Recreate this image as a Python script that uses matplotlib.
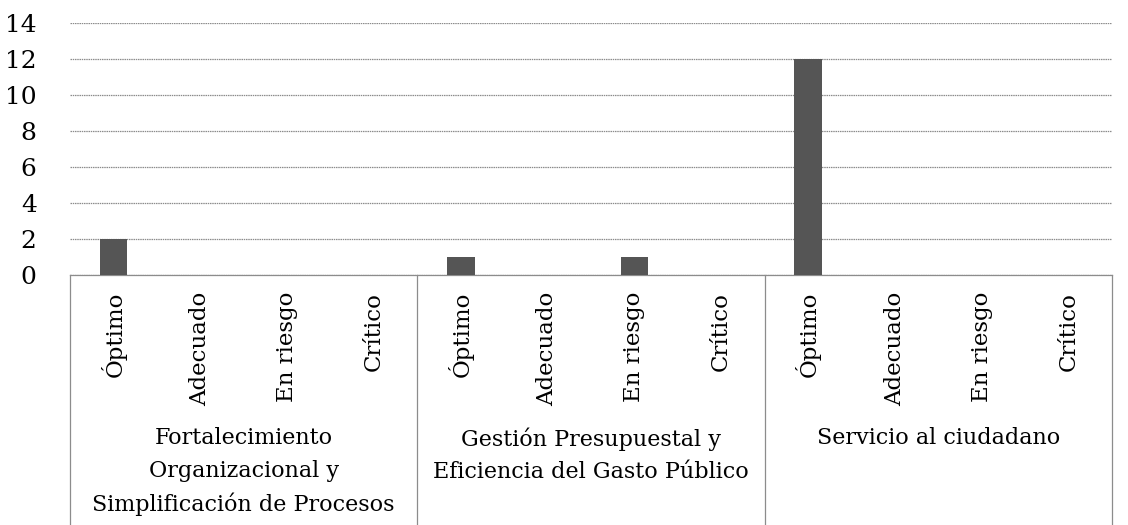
import matplotlib
matplotlib.use('Agg')
import matplotlib.pyplot as plt
import matplotlib.transforms as mtransforms
import numpy as np

# data
groups = ['Fortalecimiento\nOrganizacional y\nSimplificación de Procesos',
          'Gestión Presupuestal y\nEficiencia del Gasto Público',
          'Servicio al ciudadano']
levels = ['Óptimo', 'Adecuado', 'En riesgo', 'Crítico']
values = [[2, 0, 0, 0],
          [1, 0, 1, 0],
          [12, 0, 0, 0]]
y_ticks = [0, 2, 4, 6, 8, 10, 12, 14]

plt.rcParams['font.family'] = ['DejaVu Serif']

fig = plt.figure(figsize=(11.28, 5.25), dpi=100)
ax = fig.add_axes([70 / 1128, 1 - 275 / 525, (1112 - 70) / 1128, (275 - 23) / 525])

n_lev = len(levels)
x = np.arange(len(groups) * n_lev)
vals = np.array(values).ravel()
ax.bar(x, vals, width=0.32, color='#555555', zorder=3)

ax.set_xlim(-0.5, len(x) - 0.5)
ax.set_ylim(0, 14)
ax.set_yticks(y_ticks)
ax.set_yticklabels([str(v) for v in y_ticks], fontsize=18)
ax.tick_params(axis='y', length=0, pad=24)
ax.grid(axis='y', color='#8c8c8c', linewidth=0.9, linestyle=(0, (1.2, 0.6)), zorder=0)

ax.set_xticks(x)
ax.set_xticklabels(levels * len(groups), rotation=90, fontsize=16.5, va='top')
ax.tick_params(axis='x', length=0, pad=12)

for s in ['top', 'right', 'left']:
    ax.spines[s].set_visible(False)
ax.spines['bottom'].set_color('#8c8c8c')
ax.spines['bottom'].set_linewidth(0.9)

# group separators below the axis
trans = mtransforms.blended_transform_factory(ax.transData, ax.transAxes)
bottom = -250 / 252
for b in np.arange(len(groups) + 1) * n_lev - 0.5:
    ax.plot([b, b], [0, bottom], transform=trans, clip_on=False,
            color='#8c8c8c', linewidth=0.9)

for i, g in enumerate(groups):
    cx = i * n_lev + (n_lev - 1) / 2
    ax.text(cx, -0.605, g, transform=trans, ha='center', va='top',
            fontsize=16, linespacing=1.6)

fig.savefig('out.png', dpi=100)
